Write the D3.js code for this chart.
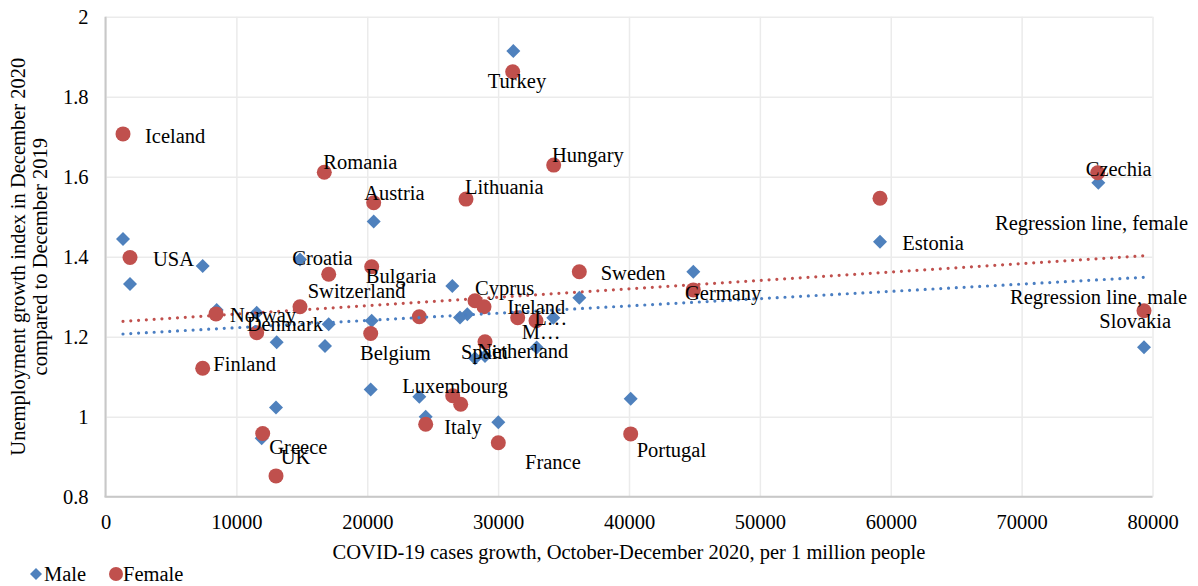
<!DOCTYPE html>
<html><head><meta charset="utf-8">
<script src="https://cdn.jsdelivr.net/npm/d3@7"></script>
<style>body{margin:0;background:#fff}svg{display:block}</style>
</head><body><svg id="c" width="1198" height="586"></svg>
<script>
// ---- data ----
const maleX = [1337,1872,7427,8497,11553,11935,13081,13028,14862,16772,17055,20264,20340,20493,23977,24466,26499,27087,27645,28233,28997,30014,31160,32947,34216,36203,40130,44913,59179,75859,79351];
const maleY = [1.444,1.332,1.377,1.267,1.26,0.946,1.186,1.023,1.393,1.177,1.231,1.068,1.24,1.488,1.05,1.0,1.327,1.248,1.256,1.146,1.152,0.986,1.914,1.173,1.2475,1.2975,1.045,1.3625,1.4375,1.585,1.1735];
const femaleX = [1337,1872,7427,8443,11553,12011,13028,14862,16718,17055,20264,20340,20493,23977,24466,26530,27140,27545,28233,28921,28997,30014,31114,31496,32894,34247,36203,40130,44913,59179,75813,79351];
const femaleY = [1.707,1.398,1.121,1.257,1.21,0.958,0.852,1.275,1.611,1.356,1.208,1.375,1.535,1.25,0.981,1.0525,1.031,1.544,1.29,1.275,1.1875,0.935,1.8625,1.2475,1.24,1.629,1.3625,0.957,1.317,1.546,1.61,1.265];
const labelNames = ["Iceland","USA","Norway","Denmark","Finland","Croatia","Switzerland","Romania","Austria","Lithuania","Bulgaria","Belgium","Greece","UK","Luxembourg","Italy","France","Portugal","Cyprus","Ireland","L…","M…","Spain","Netherland","Turkey","Hungary","Sweden","Germany","Estonia","Czechia","Regression line, female","Regression line, male","Slovakia"];
const labelX = [3018,3629,9513,10789,8237,14273,15450,16642,19775,27469,19882,19446,12516,13387,22678,25888,32054,40588,28233,30701,32764,31801,27163,28409,29204,34117,37838,44279,60883,74897,67966,69112,75935];
const labelY = [1.702,1.394,1.254,1.232,1.133,1.397,1.315,1.6375,1.56,1.5735,1.3525,1.1585,0.9235,0.9,1.0768,0.975,0.886,0.9168,1.3225,1.2735,1.246,1.2125,1.1625,1.164,1.84,1.654,1.3585,1.3085,1.435,1.6185,1.485,1.3,1.24];
const trendX = [1337, 79351];
const trendFemale = [1.2385, 1.4025];
const trendMale = [1.2068, 1.3485];
const xTickValues = [0,10000,20000,30000,40000,50000,60000,70000,80000];
const yTickValues = [0.8,1,1.2,1.4,1.6,1.8,2];
const seriesNames = ["Male","Female"];
const xTitle = "COVID-19 cases growth, October-December 2020, per 1 million people";
const yTitle = ["Unemployment growth index in December 2020","compared to December 2019"];

// ---- drawing ----
const FONT = "'Liberation Serif','Times New Roman',serif";
const FS = 20.5;
const BLUE = "#4f81bd", RED = "#c0504d";
const svg = d3.select("#c").style("font-family", FONT);
svg.append("rect").attr("width",1198).attr("height",586).attr("fill","#fff");
const L = 105.5, R = 1152.5, T = 16.7, B = 496.7;
const x = d3.scaleLinear().domain([0,80000]).range([L,R]);
const y = d3.scaleLinear().domain([0.8,2]).range([B,T]);

// gridlines
const gx = svg.append("g").attr("transform",`translate(0,${B})`)
  .call(d3.axisBottom(x).tickValues(xTickValues).tickSize(-(B-T)).tickFormat(""));
gx.select(".domain").remove();
gx.selectAll("line").attr("stroke","#ebebeb").attr("stroke-width",1.5);
const gy = svg.append("g").attr("transform",`translate(${L},0)`)
  .call(d3.axisLeft(y).tickValues(yTickValues).tickSize(-(R-L)).tickFormat(""));
gy.select(".domain").remove();
gy.selectAll("line").attr("stroke","#ebebeb").attr("stroke-width",1.5);

// axis lines
svg.append("line").attr("x1",L).attr("x2",L).attr("y1",T).attr("y2",B).attr("stroke","#c8c8c8").attr("stroke-width",2);
svg.append("line").attr("x1",L-1).attr("x2",R).attr("y1",B).attr("y2",B).attr("stroke","#c8c8c8").attr("stroke-width",2);

// tick labels
const ax = svg.append("g").attr("transform",`translate(0,${B})`)
  .call(d3.axisBottom(x).tickValues(xTickValues).tickSize(0).tickPadding(18).tickFormat(d3.format("d")));
ax.select(".domain").remove();
ax.selectAll("text").attr("font-family",FONT).attr("font-size",FS).attr("fill","#000");
const ay = svg.append("g").attr("transform",`translate(${L},0)`)
  .call(d3.axisLeft(y).tickValues(yTickValues).tickSize(0).tickPadding(17).tickFormat(d=>String(d)));
ay.select(".domain").remove();
ay.selectAll("text").attr("font-family",FONT).attr("font-size",FS).attr("fill","#000");

// axis titles
svg.append("text").attr("x",(L+R)/2 + 0).attr("y",552).attr("dy","0.35em").attr("text-anchor","middle")
  .attr("font-size",FS).text(xTitle);
const yt = svg.append("text").attr("transform",`translate(18,${(T+B)/2}) rotate(-90)`).attr("text-anchor","middle").attr("font-size",FS);
yt.append("tspan").attr("x",0).attr("dy","0.35em").text(yTitle[0]);
yt.append("tspan").attr("x",0).attr("dy","1.05em").text(yTitle[1]);

// markers
const diamond = d3.symbol().type(d3.symbolDiamond2 || d3.symbolDiamond).size(98);
const diamondPath = "M0,-7L7,0L0,7L-7,0Z";
svg.append("g").selectAll("path").data(d3.range(maleX.length)).join("path")
  .attr("d", diamondPath)
  .attr("transform", i=>`translate(${x(maleX[i])},${y(maleY[i])})`)
  .attr("fill", BLUE);
svg.append("g").selectAll("circle").data(d3.range(femaleX.length)).join("circle")
  .attr("cx", i=>x(femaleX[i])).attr("cy", i=>y(femaleY[i])).attr("r",7.5)
  .attr("fill", RED);

// trend lines
const line = d3.line().x(d=>x(d[0])).y(d=>y(d[1]));
[[trendMale,"#4a7ec2"],[trendFemale,RED]].forEach(([vals,col])=>{
  svg.append("path").attr("d", line(trendX.map((v,i)=>[v,vals[i]])))
    .attr("fill","none").attr("stroke",col).attr("stroke-width",3.2)
    .attr("stroke-linecap","round").attr("stroke-dasharray","0 7.8");
});

// labels
svg.append("g").selectAll("text").data(d3.range(labelNames.length)).join("text")
  .attr("x", i=>x(labelX[i])).attr("y", i=>y(labelY[i])).attr("dy","0.35em")
  .attr("font-size",FS).attr("fill","#000").text(i=>labelNames[i]);

// legend
const lg = svg.append("g").attr("transform","translate(0,574)");
lg.append("path").attr("d","M0,-6L6,0L0,6L-6,0Z").attr("transform","translate(36,0)").attr("fill",BLUE);
lg.append("text").attr("x",44).attr("dy","0.35em").attr("font-size",FS).text(seriesNames[0]);
lg.append("circle").attr("cx",116).attr("r",7).attr("fill",RED);
lg.append("text").attr("x",123).attr("dy","0.35em").attr("font-size",FS).text(seriesNames[1]);
</script></body></html>
